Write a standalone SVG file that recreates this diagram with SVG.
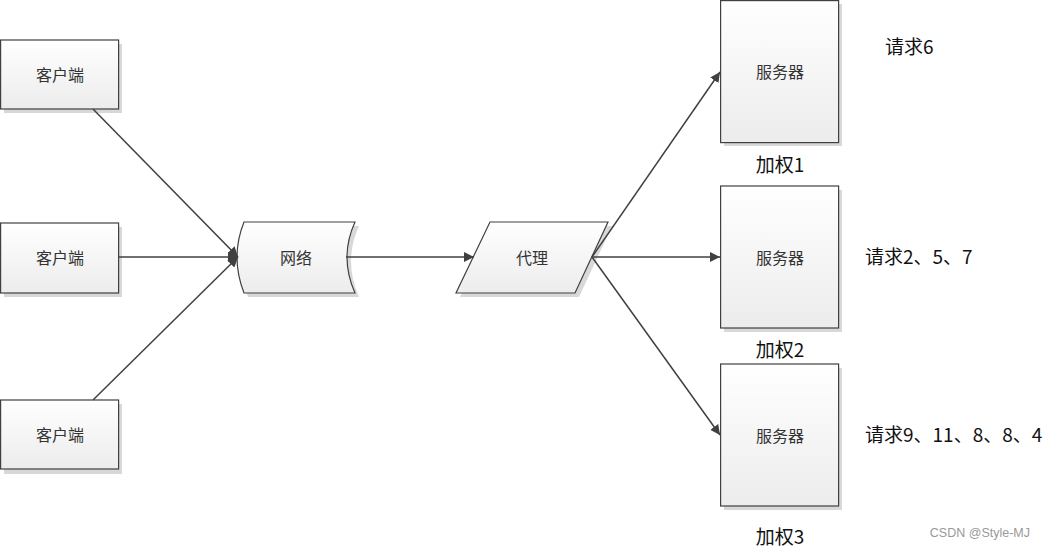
<svg xmlns="http://www.w3.org/2000/svg" width="1044" height="549" viewBox="0 0 1044 549">
<defs>
<linearGradient id="g" x1="0" y1="0" x2="0" y2="1"><stop offset="0" stop-color="#ffffff"/><stop offset="1" stop-color="#ececec"/></linearGradient>
<marker id="a" viewBox="0 0 10 10" refX="10" refY="5" markerWidth="10" markerHeight="10" markerUnits="userSpaceOnUse" orient="auto"><path d="M0,0 L10,5 L0,10 z" fill="#404040"/></marker>
</defs>
<style>
.sh{fill:#d8d8d8}
.nd{fill:url(#g);stroke:#404040;stroke-width:1.2}
.t{font-family:"Noto Sans CJK SC","Liberation Sans",sans-serif;font-size:16px;fill:#333;text-anchor:middle;dominant-baseline:central}
.l{font-family:"Noto Sans CJK SC","Liberation Sans",sans-serif;font-size:19px;fill:#111}
.c{stroke:#404040;stroke-width:1.5;fill:none;marker-end:url(#a)}
</style>
<rect width="1044" height="549" fill="#fff"/>
<g id="client1"><rect class="sh" x="4" y="44" width="118" height="69"/><rect class="nd" x="0.6" y="40" width="118" height="69"/><text class="t" x="60" y="74">客户端</text></g>
<g id="client2"><rect class="sh" x="4" y="227" width="118" height="70"/><rect class="nd" x="0.6" y="223" width="118" height="70"/><text class="t" x="60" y="257">客户端</text></g>
<g id="client3"><rect class="sh" x="4" y="404" width="118" height="70"/><rect class="nd" x="0.6" y="400" width="118" height="69"/><text class="t" x="60" y="434">客户端</text></g>
<g id="network"><path class="sh" d="M248,226 L359,226 Q343,261 359,297 L248,297 Q234,261 248,226 z"/><path class="nd" d="M244,222 L355,222 Q339,257 355,293 L244,293 Q230,257 244,222 z"/><text class="t" x="296" y="257">网络</text></g>
<g id="proxy"><path class="sh" d="M494,226 L612,226 L579,297 L460,297 z"/><path class="nd" d="M490,222 L608,222 L575,293 L456,293 z"/><text class="t" x="532" y="257">代理</text></g>
<g id="server1"><rect class="sh" x="724" y="4" width="118" height="142"/><rect class="nd" x="720.6" y="0.6" width="118" height="142"/><text class="t" x="780" y="71">服务器</text></g>
<g id="server2"><rect class="sh" x="724" y="190" width="118" height="142"/><rect class="nd" x="720.6" y="186" width="118" height="142"/><text class="t" x="780" y="257">服务器</text></g>
<g id="server3"><rect class="sh" x="724" y="368" width="118" height="142"/><rect class="nd" x="720.6" y="364" width="118" height="142"/><text class="t" x="780" y="435">服务器</text></g>
<g id="connectors">
<line class="c" x1="93" y1="109" x2="238" y2="257"/>
<line class="c" x1="118" y1="257" x2="238" y2="257"/>
<line class="c" x1="93" y1="400" x2="238" y2="257"/>
<line class="c" x1="346" y1="257" x2="474" y2="257"/>
<line class="c" x1="592" y1="257" x2="720" y2="72"/>
<line class="c" x1="592" y1="257" x2="720" y2="257"/>
<line class="c" x1="592" y1="257" x2="720" y2="435"/>
</g>
<g id="labels">
<text class="l" x="780" y="172" text-anchor="middle">加权1</text>
<text class="l" x="780" y="357" text-anchor="middle">加权2</text>
<text class="l" x="780" y="544" text-anchor="middle">加权3</text>
<text class="l" x="885" y="54">请求6</text>
<text class="l" x="865" y="264">请求2、5、7</text>
<text class="l" x="865" y="442">请求9、11、8、8、4</text>
<text x="1030" y="537" text-anchor="end" style="font-family:'Liberation Sans',sans-serif;font-size:12.5px;fill:#999">CSDN @Style-MJ</text>
</g>
</svg>
